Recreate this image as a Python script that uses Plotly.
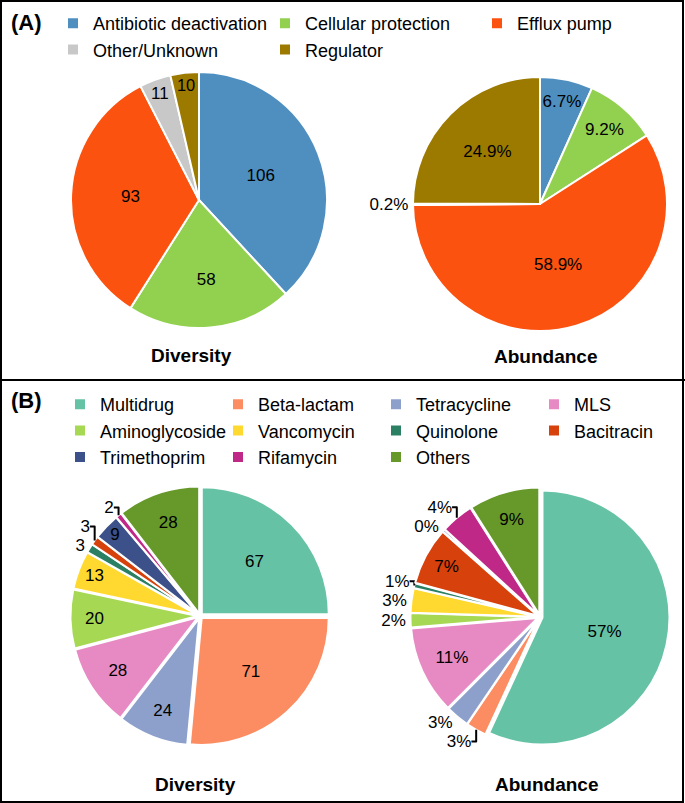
import plotly.graph_objects as go

W, H = 685, 803
FONT = "Liberation Sans, Arial, Helvetica, sans-serif"

# ---------------- Panel A data ----------------
a_labels = ["Antibiotic deactivation", "Cellular protection", "Efflux pump",
            "Other/Unknown", "Regulator"]
a_diversity = [106, 58, 93, 11, 10]
a_abundance = [6.7, 9.2, 58.9, 0.2, 24.9]
a_colors = ["#4F8FC0", "#92D050", "#FC520F", "#C8C8C8", "#9C7A00"]

# ---------------- Panel B data ----------------
b_labels = ["Multidrug", "Beta-lactam", "Tetracycline", "MLS", "Aminoglycoside",
            "Vancomycin", "Quinolone", "Bacitracin", "Trimethoprim", "Rifamycin", "Others"]
b_diversity = [67, 71, 24, 28, 20, 13, 3, 3, 9, 2, 28]
b_abundance = [56.9, 2.6, 3.0, 11.2, 1.8, 3.1, 0.6, 7.3, 0.3, 4.2, 9.0]
b_colors = ["#66C2A5", "#FC8D62", "#8DA0CB", "#E78AC3", "#A6D854", "#FFD92F",
            "#2B8064", "#D6410C", "#3C5089", "#BF2887", "#66982A"]

# label placement (style)
a_div_pos = ["inside"] * 5
a_ab_pos = ["inside", "inside", "inside", "outside", "inside"]
b_div_pos = ["inside", "inside", "inside", "inside", "inside", "inside",
             "outside", "outside", "inside", "outside", "inside"]
b_ab_pos = ["inside", "outside", "outside", "inside", "outside", "outside",
            "outside", "inside", "outside", "outside", "inside"]


def dom(cx, cy, half):
    return dict(x=[(cx - half) / W, (cx + half) / W],
                y=[(H - cy - half) / H, (H - cy + half) / H])


common = dict(sort=False, direction="clockwise", rotation=0,
              insidetextorientation="horizontal",
              textfont=dict(family=FONT, size=17, color="black"),
              outsidetextfont=dict(family=FONT, size=17, color="black"),
              hoverinfo="label+value")

fig = go.Figure()
fig.add_trace(go.Pie(labels=a_labels, values=a_diversity, name="Diversity",
                     marker=dict(colors=a_colors, line=dict(color="white", width=2)),
                     textinfo="value", textposition=a_div_pos,
                     domain=dom(199, 200, 128), legend="legend", **common))
fig.add_trace(go.Pie(labels=a_labels, values=a_abundance, name="Abundance",
                     marker=dict(colors=a_colors, line=dict(color="white", width=2)),
                     texttemplate="%{value:.1f}%", textposition=a_ab_pos,
                     domain=dom(540, 204, 127), legend="legend", showlegend=False,
                     **common))
fig.add_trace(go.Pie(labels=b_labels, values=b_diversity, name="Diversity",
                     marker=dict(colors=b_colors, line=dict(color="white", width=2)),
                     textinfo="value", textposition=b_div_pos, pull=0.02,
                     domain=dom(200, 616, 127 * 1.02), legend="legend2", **common))
fig.add_trace(go.Pie(labels=b_labels, values=b_abundance, name="Abundance",
                     marker=dict(colors=b_colors, line=dict(color="white", width=2)),
                     texttemplate="%{value:.0f}%", textposition=b_ab_pos, pull=0.02,
                     domain=dom(540, 617, 127 * 1.02), legend="legend2", showlegend=False,
                     **common))

leg_common = dict(orientation="h", xanchor="left", yanchor="top",
                  font=dict(family=FONT, size=18, color="black"),
                  entrywidthmode="pixels", traceorder="normal",
                  bgcolor="rgba(0,0,0,0)", borderwidth=0)

annotations = [
    dict(text="<b>(A)</b>", x=26 / W, y=1 - 22 / H),
    dict(text="<b>(B)</b>", x=26 / W, y=1 - 400 / H),
    dict(text="<b>Diversity</b>", x=191 / W, y=1 - 355 / H),
    dict(text="<b>Abundance</b>", x=545 / W, y=1 - 356 / H),
    dict(text="<b>Diversity</b>", x=195 / W, y=1 - 784 / H),
    dict(text="<b>Abundance</b>", x=546 / W, y=1 - 784 / H),
]
for a in annotations:
    a.update(xref="paper", yref="paper", showarrow=False, xanchor="center",
             yanchor="middle",
             font=dict(family=FONT, size=22 if "(" in a["text"] else 19, color="black"))

fig.update_layout(
    width=W, height=H,
    margin=dict(l=0, r=0, t=0, b=0, autoexpand=False),
    paper_bgcolor="white", plot_bgcolor="white",
    legend=dict(x=53 / W, y=1 - 5 / H, entrywidth=167, **leg_common),
    legend2=dict(x=60 / W, y=1 - 386 / H, entrywidth=113, **leg_common),
    annotations=annotations,
    shapes=[
        dict(type="rect", xref="paper", yref="paper", x0=1 / W, x1=1 - 2 / W,
             y0=1 / H, y1=1 - 1 / H, line=dict(color="black", width=2)),
        dict(type="line", xref="paper", yref="paper", x0=0, x1=1,
             y0=1 - 380 / H, y1=1 - 380 / H, line=dict(color="black", width=2)),
    ],
)

fig.write_html("out.html", config={"displayModeBar": False},
               post_script="document.body.style.margin='0';document.body.style.padding='0';")
